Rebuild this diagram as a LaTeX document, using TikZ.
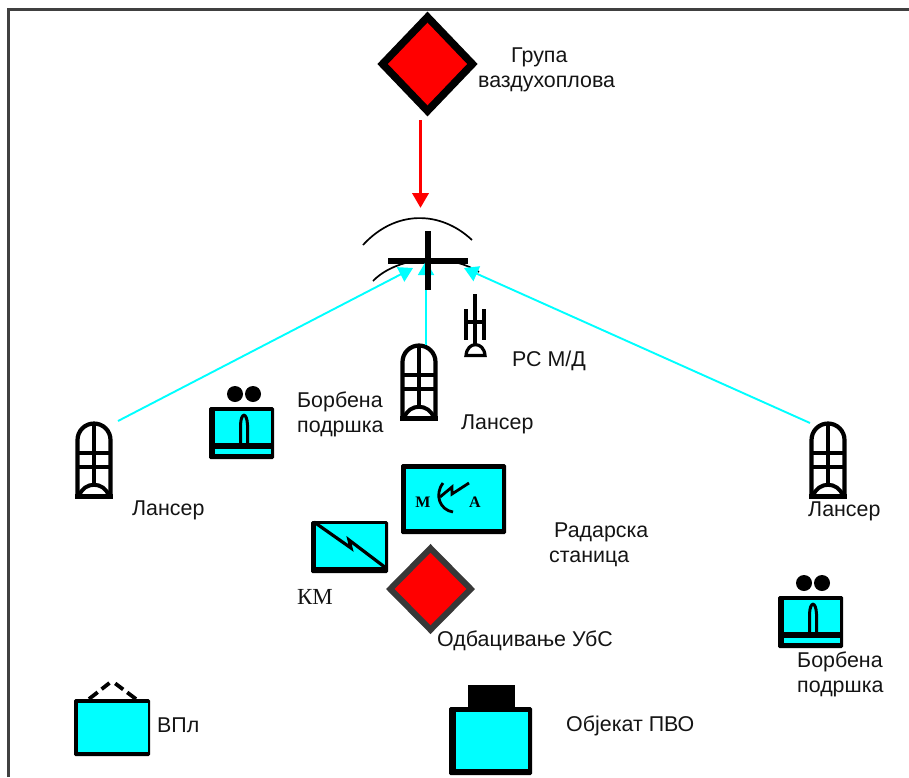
\documentclass[tikz,border=0pt]{standalone}
\usepackage{fontspec}
\setmainfont{Liberation Sans}
\newfontfamily\serifcyr{Liberation Serif}
\usetikzlibrary{arrows.meta,shapes.geometric}
\definecolor{aq}{RGB}{0,255,255}
\definecolor{rd}{RGB}{255,0,0}
\newcommand{\symbox}[8]{%
  \fill[black,rounded corners=1.5pt] (#1,#2) rectangle (#3,#4);
  \fill[aq] (#5,#6) rectangle (#7,#8);}
\tikzset{
  x=1pt,y=-1pt,
  lbl/.style={font=\fontsize{21.4}{26}\selectfont,anchor=west,inner sep=0pt,text=black!92},
  mabl/.style={font=\serifcyr\bfseries\fontsize{16}{16}\selectfont,inner sep=0pt},
  dia/.style={fill=rd,diamond,inner sep=0pt},
  conn/.style={aq,line width=1.9pt,-{Triangle[length=14pt,width=16pt]}},
  vd/.style={line width=3.8pt,dash pattern=on 11pt off 5pt on 10pt off 12pt},
  lancer/.pic={
    \draw[line width=4.2pt] (-16.5,74) -- (-16.5,18) arc[start angle=180,end angle=360,radius=16.5] -- (16.5,74);
    \draw[line width=4.2pt] (-19,74.5) -- (19,74.5);
    \draw[line width=3.6pt] (0,1) -- (0,62);
    \draw[line width=3.4pt] (-16.5,31) -- (16.5,31) (-16.5,45) -- (16.5,45);
    \draw[line width=4pt] (-15,74) .. controls (-10,59) and (10,59) .. (15,74);
  },
  support/.pic={
    \fill (26,-13) circle[radius=8] (44,-13) circle[radius=8];
    \fill[black,rounded corners=1.5pt] (0,0) rectangle (65,52);
    \fill[aq] (6,4) rectangle (62,36);
    \fill[aq] (6,42) rectangle (62,47);
    \draw[line width=3pt] (31.5,36) -- (31.5,18) .. controls (32,5) and (38,5) .. (38.5,18) -- (38.5,36);
  }
}
\begin{document}
\begin{tikzpicture}
\useasboundingbox (0,0) rectangle (909,777);
% frame
\coordinate (fa) at (8.5,777); \coordinate (fb) at (8.5,9.5); \coordinate (fc) at (909,9.5);
\draw[line width=2.6pt,black!75] (fa)--(fb)--(fc);
% top diamond and arrow
\node[dia,minimum width=93pt,minimum height=97pt,line width=7.5pt,draw=black] (top) at (427.5,64) {};
\coordinate (rs) at (420.5,120);
\coordinate (re) at (420.5,208);
\draw[rd,line width=3.8pt,-{Triangle[length=15pt,width=16pt]}] (rs)--(re);
% target symbol
\draw[line width=1.7pt] (363,245) .. controls (395,210) and (440,210) .. (472,240);
\draw[line width=1.7pt] (373,281) .. controls (395,258) and (445,251) .. (479,272);
\draw[line width=6pt] (388,261)--(468,261);
% lancers
\pic (lc) at (419,344) {lancer};
\pic (ll) at (94,422) {lancer};
\pic (lr) at (828,422) {lancer};
\coordinate (cl) at (118,421);
\coordinate (cc) at (426,345);
\coordinate (cr) at (810,423);
\coordinate (al) at (413,268);
\coordinate (ac) at (426,261);
\coordinate (ar) at (464,268);
\draw[conn] (cl)--(al);
\draw[conn] (cc)--(ac);
\draw[conn] (cr)--(ar);
\draw[line width=6pt] (428,231)--(428,290);
% RS M/D
\draw[line width=3.4pt] (475,294)--(475,346);
\draw[line width=3.4pt] (466,309)--(466,340) (484,309)--(484,340) (466,322)--(484,322);
\draw[line width=3.2pt] (466,355.5) .. controls (467,341) and (484,341) .. (485,355.5) -- cycle;
% support
\pic at (209,407) {support};
\pic at (778,596) {support};
% radar
\symbox{401}{464}{506}{534}{406}{469}{502}{529}
\node[mabl] (m) at (423,502) {М};
\node[mabl] (a) at (475,502) {А};
\draw[line width=2.8pt] (443,483) .. controls (434,495) and (440,510) .. (453,512);
\draw[line width=2.8pt] (469,483) -- (452,494) -- (452,487) -- (440,497);
% KM
\symbox{311}{521}{388}{573}{316}{524}{385}{567}
\draw[line width=3.2pt] (314,522) -- (351,548) -- (349,540) -- (386,568);
\node[font=\serifcyr\fontsize{23}{26}\selectfont,inner sep=0pt,text=black!92] (kmt) at (315,597) {КМ};
% small diamond
\node[dia,minimum width=83pt,minimum height=84pt,line width=6pt,draw=black!78] (ub) at (430.5,589) {};
% VPl
\symbox{74}{699}{150}{756}{78}{703}{148}{752}
\coordinate (va) at (89,699); \coordinate (vt) at (112,681); \coordinate (vb) at (136,699);
\draw[vd] (va)--(vt);
\draw[vd] (vb)--(vt);
% PVO
\fill (468,685) rectangle (515,710);
\symbox{449}{707}{532}{775}{456}{712}{528}{769}
% labels
\node[lbl] (t1a) at (511,57) {Група};
\node[lbl] (t1b) at (478,84) {ваздухоплова};
\node[lbl] (t2) at (512,361) {РС М/Д};
\node[lbl] (t3a) at (297,402) {Борбена};
\node[lbl] (t3b) at (297,429) {подршка};
\node[lbl] (t4) at (461,424) {Лансер};
\node[lbl] (t5) at (132,510) {Лансер};
\node[lbl] (t6) at (808,511) {Лансер};
\node[lbl] (t7a) at (554,532) {Радарска};
\node[lbl] (t7b) at (549,559) {станица};
\node[lbl] (t8) at (437,641) {Одбацивање УбС};
\node[lbl] (t9a) at (797,662) {Борбена};
\node[lbl] (t9b) at (797,689) {подршка};
\node[lbl] (t10) at (157,725) {ВПл};
\node[lbl] (t11) at (566,726) {Објекат ПВО};
\end{tikzpicture}
\end{document}
